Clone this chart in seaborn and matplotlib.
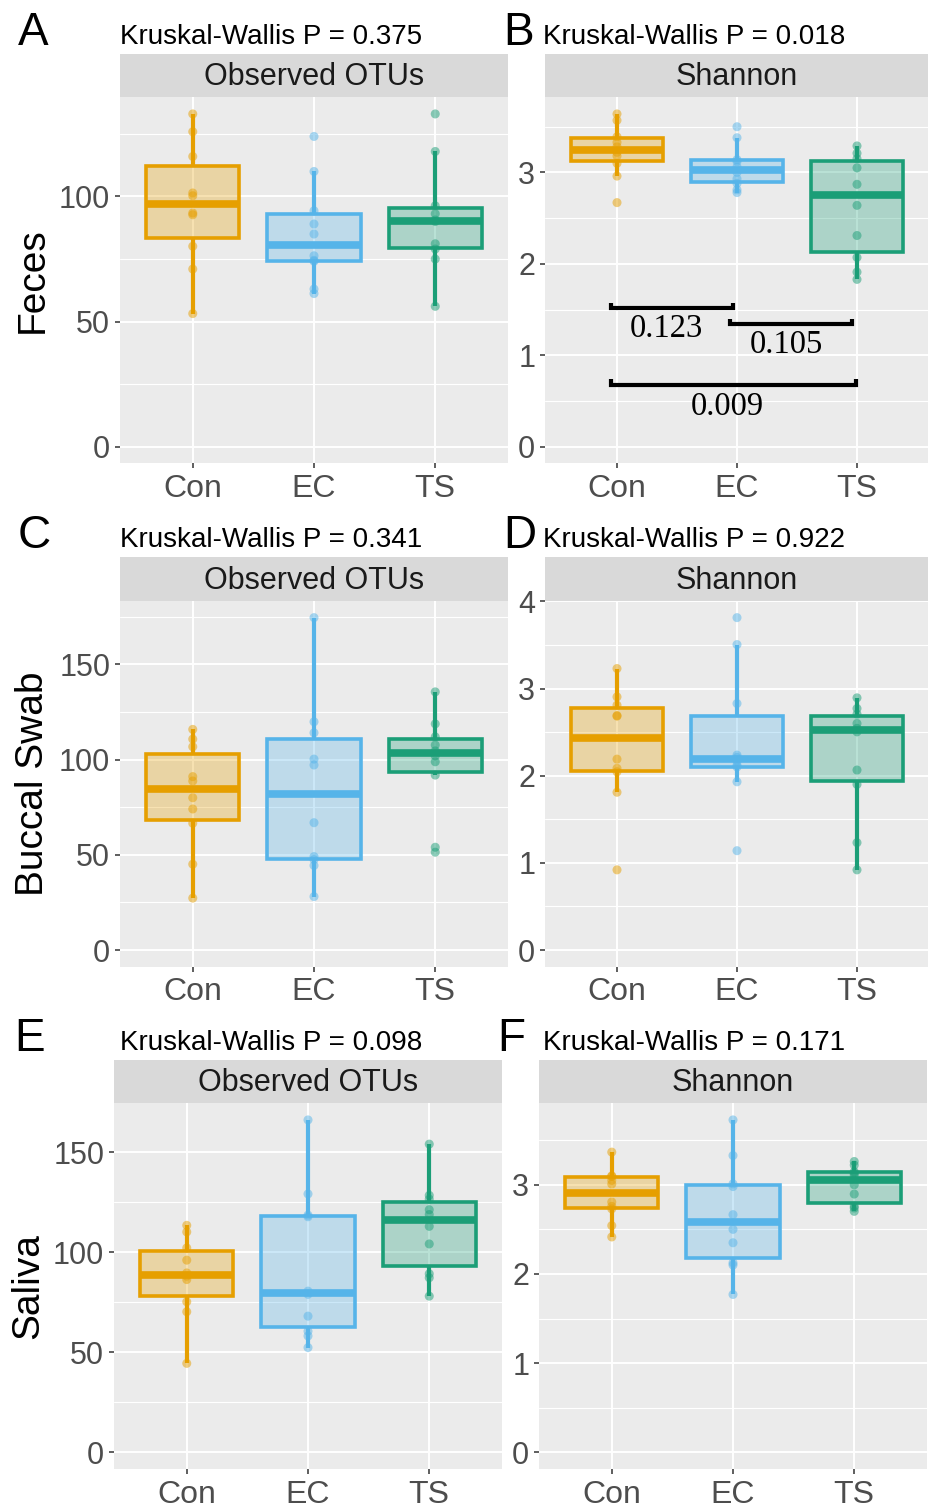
import numpy as np
import pandas as pd
import matplotlib
matplotlib.use("Agg")
import matplotlib.pyplot as plt
from matplotlib.colors import to_rgba
from matplotlib.ticker import MultipleLocator
import seaborn as sns

# ---------------- data ----------------
groups = ["Con", "EC", "TS"]
group_colors = ["#E69F00", "#56B4E9", "#1B9E77"]
sites = ["Feces", "Buccal Swab", "Saliva"]
metrics = ["Observed OTUs", "Shannon"]
panel_letters = ["A", "B", "C", "D", "E", "F"]
kw_pvalues = ["0.375", "0.018", "0.341", "0.922", "0.098", "0.171"]

feces_otu_con = [53.2, 71.0, 80.1, 92.7, 93.4, 100.3, 101.4, 116.0, 125.9, 133.0]
feces_otu_ec = [61.2, 63.0, 74.1, 74.5, 76.3, 85.0, 89.0, 94.3, 110.0, 124.0]
feces_otu_ts = [56.1, 75.0, 79.0, 81.1, 90.0, 90.6, 93.1, 96.3, 118.0, 133.0]

feces_sh_con = [2.67, 2.96, 3.10, 3.18, 3.22, 3.28, 3.33, 3.39, 3.57, 3.64]
feces_sh_ec = [2.78, 2.81, 2.88, 2.93, 3.00, 3.06, 3.12, 3.14, 3.38, 3.50]
feces_sh_ts = [1.83, 1.91, 2.07, 2.31, 2.64, 2.87, 3.05, 3.15, 3.21, 3.29]

buccal_otu_con = [27.3, 45.1, 66.6, 74.1, 80.0, 88.8, 91.1, 106.8, 110.8, 115.9]
buccal_otu_ec = [28.1, 44.4, 47.5, 49.1, 66.9, 97.2, 100.3, 114.1, 119.9, 174.6]
buccal_otu_ts = [51.4, 54.0, 91.9, 98.9, 102.0, 104.6, 107.7, 112.0, 118.8, 135.6]

buccal_sh_con = [0.92, 1.81, 2.045, 2.084, 2.19, 2.683, 2.69, 2.809, 2.904, 3.229]
buccal_sh_ec = [1.14, 1.93, 2.10, 2.12, 2.17, 2.21, 2.236, 2.828, 3.504, 3.813]
buccal_sh_ts = [0.92, 1.232, 1.90, 2.065, 2.503, 2.543, 2.599, 2.706, 2.771, 2.893]

saliva_otu_con = [44.5, 70.3, 75.3, 86.4, 88.1, 89.7, 96.1, 102.2, 110.2, 113.5]
saliva_otu_ec = [52.4, 58.2, 60.6, 68.1, 79.0, 80.6, 117.8, 118.6, 129.2, 166.2]
saliva_otu_ts = [78.1, 87.3, 89.3, 104.2, 113.0, 118.9, 121.3, 126.6, 128.5, 154.1]

saliva_sh_con = [2.415, 2.542, 2.73, 2.758, 2.807, 3.008, 3.05, 3.093, 3.10, 3.366]
saliva_sh_ec = [1.77, 2.10, 2.125, 2.35, 2.50, 2.665, 2.98, 3.01, 3.328, 3.727]
saliva_sh_ts = [2.702, 2.74, 2.76, 2.896, 3.0, 3.11, 3.13, 3.146, 3.22, 3.261]

# pairwise comparisons shown on the Feces / Shannon panel
pair_groups = [("Con", "EC"), ("EC", "TS"), ("Con", "TS")]
pair_pvalues = ["0.123", "0.105", "0.009"]

panel_data = {
    (0, 0): [feces_otu_con, feces_otu_ec, feces_otu_ts],
    (0, 1): [feces_sh_con, feces_sh_ec, feces_sh_ts],
    (1, 0): [buccal_otu_con, buccal_otu_ec, buccal_otu_ts],
    (1, 1): [buccal_sh_con, buccal_sh_ec, buccal_sh_ts],
    (2, 0): [saliva_otu_con, saliva_otu_ec, saliva_otu_ts],
    (2, 1): [saliva_sh_con, saliva_sh_ec, saliva_sh_ts],
}

# ---------------- style ----------------
sns.set_theme(style="white")
plt.rcParams["font.family"] = ["Liberation Sans", "DejaVu Sans"]

W, H = 929, 1505
fig = plt.figure(figsize=(W / 100, H / 100), dpi=100)


def rect(x0, y0, x1, y1):
    return [x0 / W, 1 - y1 / H, (x1 - x0) / W, (y1 - y0) / H]


def fx(x):
    return x / W


def fy(y):
    return 1 - y / H


panel_px = {
    (0, 0): (120, 97.3, 508, 463.3),
    (0, 1): (545, 97.3, 929, 463.3),
    (1, 0): (120, 601, 508, 966.7),
    (1, 1): (545, 601, 929, 966.7),
    (2, 0): (114, 1103.3, 502, 1469),
    (2, 1): (539, 1103.3, 927, 1469),
}
strip_h = 43.5
title_base = [44, 547, 1050]
title_x = [120, 543]
letter_x = [[18, 503], [18, 503], [14, 497]]
ylab_x = [33, 33, 28]

for r in range(3):
    for c in range(2):
        x0, y0, x1, y1 = panel_px[(r, c)]
        vals = panel_data[(r, c)]
        df = pd.DataFrame({
            "group": np.repeat(groups, [len(v) for v in vals]),
            "value": np.concatenate(vals),
        })
        ax = fig.add_axes(rect(x0, y0, x1, y1))
        ax.set_facecolor("#EBEBEB")

        for g, col in zip(groups, group_colors):
            sub = df[df["group"] == g]
            nb = len(ax.patches)
            nl = len(ax.lines)
            sns.boxplot(
                data=sub, x="group", y="value", order=groups, color=col,
                linecolor=col, saturation=1, width=0.77, showfliers=False,
                showcaps=False, linewidth=2.6,
                whiskerprops=dict(linewidth=3.0, solid_capstyle="butt"),
                medianprops=dict(linewidth=5.5, solid_capstyle="butt"),
                ax=ax,
            )
            for p in ax.patches[nb:]:
                p.set_facecolor(to_rgba(col, 0.3))
                p.set_edgecolor(col)
                p.set_zorder(2)
            for ln in ax.lines[nl:]:
                ln.set_color(col)
                ln.set_zorder(2.2)

        sns.stripplot(
            data=df, x="group", y="value", order=groups, hue="group",
            hue_order=groups, palette=group_colors, jitter=False, size=6.5,
            alpha=0.5, linewidth=0, legend=False, ax=ax, zorder=3,
        )

        ymax = df["value"].max()
        ax.set_xlim(-0.6, 2.6)
        ax.set_ylim(-0.05 * ymax, 1.05 * ymax)
        if c == 0:
            ax.yaxis.set_major_locator(MultipleLocator(50))
            ax.yaxis.set_minor_locator(MultipleLocator(25))
        else:
            ax.yaxis.set_major_locator(MultipleLocator(1))
            ax.yaxis.set_minor_locator(MultipleLocator(0.5))
        ax.set_axisbelow(True)
        ax.grid(which="major", axis="both", color="white", linewidth=1.4)
        ax.grid(which="minor", axis="y", color="white", linewidth=0.8)
        for s in ax.spines.values():
            s.set_visible(False)
        ax.tick_params(axis="both", which="major", length=3.6, width=1.1,
                       color="#333333", labelcolor="#4D4D4D",
                       left=True, bottom=True)
        ax.tick_params(axis="y", which="major", pad=3.5, labelsize=22)
        ax.tick_params(axis="x", which="major", pad=4.0, labelsize=23)
        ax.tick_params(which="minor", length=0)
        ax.set_xlabel("")
        ax.set_ylabel("")

        # pairwise brackets on Feces / Shannon
        if (r, c) == (0, 1):
            br_y = [1.52, 1.345, 0.68]
            br_off = [(-0.05, -0.03), (-0.06, -0.04), (-0.05, -0.01)]
            lab_pos = [(0.41, 1.29), (1.41, 1.12), (0.92, 0.44)]
            for (ga, gb), p, yb, (oa, ob), (lx, ly) in zip(
                    pair_groups, pair_pvalues, br_y, br_off, lab_pos):
                xa = groups.index(ga) + oa
                xb = groups.index(gb) + ob
                ax.plot([xa, xa, xb, xb], [yb + 0.055, yb, yb, yb + 0.055],
                        color="black", lw=3, solid_capstyle="butt",
                        solid_joinstyle="miter", zorder=4)
                ax.text(lx, ly, p, ha="center", va="center", fontsize=23.5,
                        family=["Liberation Serif", "DejaVu Serif"],
                        color="black", zorder=4)

        # strip
        sax = fig.add_axes(rect(x0, y0 - strip_h, x1, y0))
        sax.set_facecolor("#D9D9D9")
        sax.set_xticks([])
        sax.set_yticks([])
        for s in sax.spines.values():
            s.set_visible(False)
        sax.text(0.5, 0.47, metrics[c], ha="center", va="center",
                 fontsize=22, color="#1A1A1A", transform=sax.transAxes)

        # title and panel letter
        fig.text(fx(title_x[c]), fy(title_base[r]),
                 f"Kruskal-Wallis P = {kw_pvalues[2 * r + c]}",
                 ha="left", va="baseline", fontsize=20, color="black")
        fig.text(fx(letter_x[r][c]), fy(title_base[r] + 1),
                 panel_letters[2 * r + c], ha="left", va="baseline",
                 fontsize=33, color="black")

    # row label
    x0, y0, x1, y1 = panel_px[(r, 0)]
    fig.text(fx(ylab_x[r]), fy((y0 + y1) / 2), sites[r], rotation=90,
             ha="center", va="center", fontsize=28, color="black")

fig.savefig("out.png", dpi=100)
